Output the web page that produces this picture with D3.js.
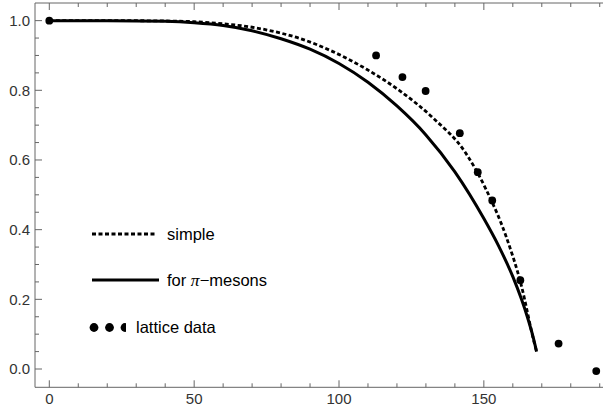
<!DOCTYPE html>
<html>
<head>
<meta charset="utf-8">
<script src="https://cdn.jsdelivr.net/npm/d3@7"></script>
<style>
  html, body { margin: 0; padding: 0; background: #fff; }
  svg { display: block; }
  text { font-family: "Liberation Sans", Arial, sans-serif; }
</style>
</head>
<body>
<svg id="chart" width="603" height="408"></svg>
<script>
// ---- data ----
const simpleX = [0, 20, 40, 50, 60, 70, 80, 86.4, 97.9, 109.4, 120.9, 132.4, 143.9, 150.8, 157.7, 162.9, 167.5, 168.2];
const simpleY = [1.0, 1.0, 0.999, 0.997, 0.991, 0.981, 0.964, 0.949, 0.911, 0.861, 0.799, 0.721, 0.618, 0.515, 0.38, 0.241, 0.072, 0.05];

const pionX = [0, 20, 40, 50, 60, 70, 80, 90, 100, 110, 120, 130, 140, 150, 155, 160, 163, 165, 167, 168.2];
const pionY = [1.0, 1.0, 0.998, 0.994, 0.986, 0.971, 0.948, 0.918, 0.877, 0.823, 0.755, 0.672, 0.566, 0.432, 0.355, 0.265, 0.200, 0.150, 0.092, 0.05];

const latticeX = [0, 112.8, 121.9, 129.9, 141.7, 147.9, 152.9, 162.6, 175.8, 188.8];
const latticeY = [1.0, 0.90, 0.838, 0.798, 0.677, 0.565, 0.484, 0.255, 0.073, -0.006];

const xMajorTicks = [0, 50, 100, 150];
const yMajorTicks = [0.0, 0.2, 0.4, 0.6, 0.8, 1.0];
const yTickLabels = ["0.0", "0.2", "0.4", "0.6", "0.8", "1.0"];
const legendLabels = ["simple", "for π−mesons", "lattice data"];

(function () {
const svg = d3.select("#chart");
const x = d3.scaleLinear().domain([-4.94, 191.13]).range([35, 603]);
const y = d3.scaleLinear().domain([-0.0525, 1.0506]).range([387.3, 3]);
const axisColor = "#666";
const labelColor = "#333";

const yTop = y.range()[1], yBot = y.range()[0], xLeft = x.range()[0], xRight = x.range()[1];
svg.append("line").attr("x1", xLeft).attr("x2", xRight).attr("y1", yBot).attr("y2", yBot)
  .attr("stroke", axisColor).attr("stroke-width", 1);
svg.append("line").attr("x1", xLeft).attr("x2", xRight).attr("y1", yTop).attr("y2", yTop)
  .attr("stroke", axisColor).attr("stroke-width", 1);
svg.append("line").attr("x1", xLeft).attr("x2", xLeft).attr("y1", yTop).attr("y2", yBot)
  .attr("stroke", axisColor).attr("stroke-width", 1);

const xMinor = d3.range(0, 191, 10);
xMinor.forEach(v => {
  const major = xMajorTicks.includes(v);
  const len = major ? 7 : 4;
  const px = x(v);
  svg.append("line").attr("x1", px).attr("x2", px).attr("y1", yBot).attr("y2", yBot - len)
    .attr("stroke", axisColor).attr("stroke-width", 1);
  svg.append("line").attr("x1", px).attr("x2", px).attr("y1", yTop).attr("y2", yTop + len)
    .attr("stroke", axisColor).attr("stroke-width", 1);
});
xMajorTicks.forEach(v => {
  svg.append("text").attr("x", x(v)).attr("y", 403.5).attr("text-anchor", "middle")
    .attr("font-size", 15).attr("fill", labelColor).text(v);
});

const yMinor = d3.range(0, 21).map(i => i * 0.05);
yMinor.forEach((v, i) => {
  const major = i % 4 === 0;
  const len = major ? 7 : 4;
  const py = y(v);
  svg.append("line").attr("x1", xLeft).attr("x2", xLeft + len).attr("y1", py).attr("y2", py)
    .attr("stroke", axisColor).attr("stroke-width", 1);
});
yMajorTicks.forEach((v, i) => {
  svg.append("text").attr("x", 30).attr("y", y(v)).attr("dy", "0.36em").attr("text-anchor", "end")
    .attr("font-size", 15).attr("fill", labelColor).text(yTickLabels[i]);
});

const line = d3.line().x(d => x(d[0])).y(d => y(d[1])).curve(d3.curveMonotoneX);
const simpleData = simpleX.map((v, i) => [v, simpleY[i]]);
const pionData = pionX.map((v, i) => [v, pionY[i]]);

svg.append("path").datum(pionData).attr("d", line).attr("fill", "none")
  .attr("stroke", "#000").attr("stroke-width", 3);
svg.append("path").datum(simpleData).attr("d", line).attr("fill", "none")
  .attr("stroke", "#000").attr("stroke-width", 2.8).attr("stroke-dasharray", "4,2.5");

svg.selectAll("circle.pt").data(latticeX.map((v, i) => [v, latticeY[i]])).enter()
  .append("circle").attr("class", "pt")
  .attr("cx", d => x(d[0])).attr("cy", d => y(d[1])).attr("r", 3.9).attr("fill", "#000");

const lg = svg.append("g");
lg.append("line").attr("x1", 92).attr("x2", 157).attr("y1", 234).attr("y2", 234)
  .attr("stroke", "#000").attr("stroke-width", 2.8).attr("stroke-dasharray", "4,2.5");
lg.append("text").attr("x", 167).attr("y", 234).attr("dy", "0.36em").attr("font-size", 16.5)
  .attr("fill", "#000").text(legendLabels[0]);

lg.append("line").attr("x1", 92).attr("x2", 159).attr("y1", 280).attr("y2", 280)
  .attr("stroke", "#000").attr("stroke-width", 3);
const t2 = lg.append("text").attr("x", 167).attr("y", 280).attr("dy", "0.36em").attr("font-size", 16.5).attr("fill", "#000");
t2.append("tspan").text("for ");
t2.append("tspan").attr("font-family", "'Liberation Serif', 'Times New Roman', serif").attr("font-style", "italic").attr("font-size", 17.5).text("π");
t2.append("tspan").text("−mesons");

const defs = svg.append("defs");
defs.append("clipPath").attr("id", "lgclip").append("rect")
  .attr("x", 80).attr("y", 315).attr("width", 46).attr("height", 25);
const dots = lg.append("g").attr("clip-path", "url(#lgclip)");
[94, 109.5, 125].forEach(cx => {
  dots.append("circle").attr("cx", cx).attr("cy", 327.5).attr("r", 4.4).attr("fill", "#000");
});
lg.append("text").attr("x", 136).attr("y", 327.5).attr("dy", "0.36em").attr("font-size", 16.5)
  .attr("fill", "#000").text(legendLabels[2]);
})();
</script>
</body>
</html>
